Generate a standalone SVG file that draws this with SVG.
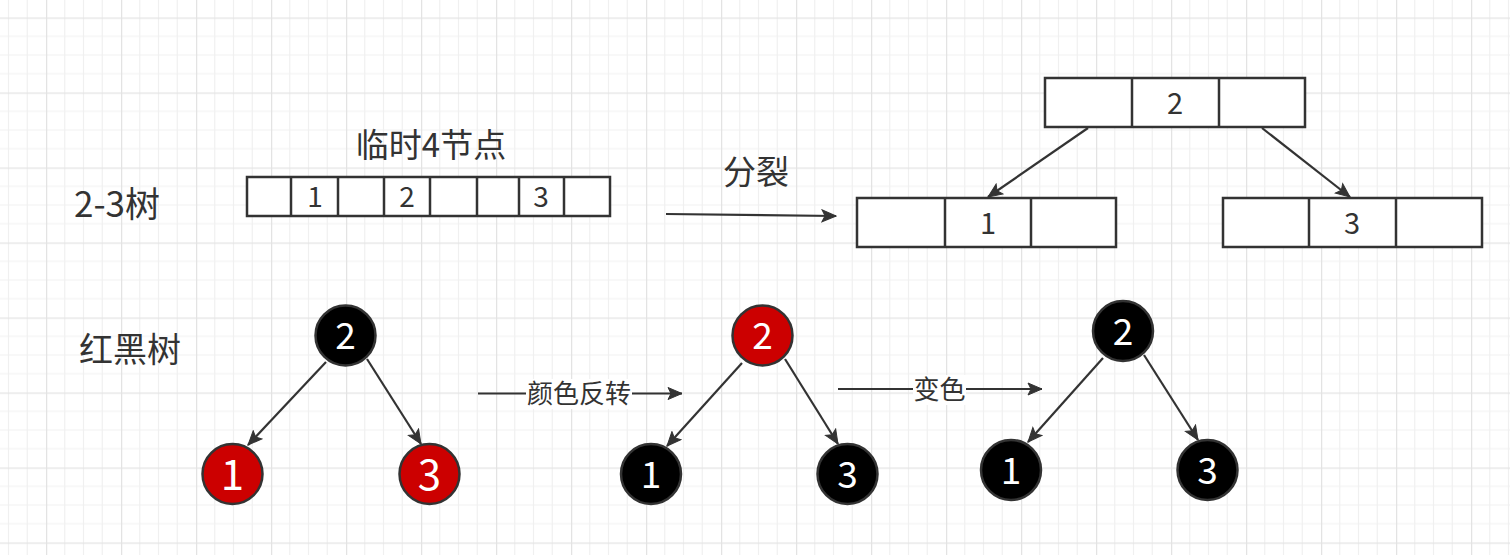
<svg xmlns="http://www.w3.org/2000/svg" width="1510" height="555" viewBox="0 0 1510 555">
<defs>
<pattern id="grid" patternUnits="userSpaceOnUse" x="46" y="17.5" width="75" height="75">
<g stroke="#f0f0f0" stroke-width="1.2">
<line x1="18.75" y1="0" x2="18.75" y2="75"/><line x1="37.5" y1="0" x2="37.5" y2="75"/><line x1="56.25" y1="0" x2="56.25" y2="75"/>
<line x1="0" y1="18.75" x2="75" y2="18.75"/><line x1="0" y1="37.5" x2="75" y2="37.5"/><line x1="0" y1="56.25" x2="75" y2="56.25"/>
</g>
<g stroke="#e3e3e3" stroke-width="1.5">
<line x1="0.5" y1="0" x2="0.5" y2="75"/><line x1="0" y1="0.5" x2="75" y2="0.5"/>
</g>
</pattern>
<marker id="arr" markerUnits="userSpaceOnUse" viewBox="-15 -7 16 14" refX="0" refY="0" markerWidth="16" markerHeight="14" orient="auto">
<path d="M0,0 L-14,-6 L-11,0 L-14,6 Z" fill="#333" stroke="#333" stroke-width="1"/>
</marker>
<style>
.lbl{font-family:"Noto Sans CJK SC","Noto Sans",sans-serif;fill:#333;}
.big{font-size:33px;}
.cell{fill:#fff;stroke:#333;stroke-width:2.5;}
.div{stroke:#333;stroke-width:2.5;}
.num{font-family:"Noto Sans CJK SC","Noto Sans",sans-serif;fill:#333;text-anchor:middle;}
.cn{font-family:"Noto Sans CJK SC","Noto Sans",sans-serif;fill:#fff;text-anchor:middle;font-size:37px;}
.blk{fill:#000;stroke:#333;stroke-width:2.5;}
.red{fill:#cc0000;stroke:#333;stroke-width:2.5;}
.edge{stroke:#333;stroke-width:2.2;fill:none;marker-end:url(#arr);}
</style>
</defs>
<rect width="1510" height="555" fill="#fff"/>
<rect width="1510" height="555" fill="url(#grid)"/>

<g id="labels">
<text class="lbl" x="74" y="217" style="font-size:35px">2-3树</text>
<text class="lbl" x="79" y="362" style="font-size:34px">红黑树</text>
<text class="lbl big" x="431" y="157" text-anchor="middle">临时4节点</text>
<text class="lbl big" x="756" y="184" text-anchor="middle">分裂</text>
</g>

<g id="temp4node">
<rect class="cell" x="247" y="177" width="363" height="39"/>
<line class="div" x1="291" y1="177" x2="291" y2="216"/>
<line class="div" x1="338" y1="177" x2="338" y2="216"/>
<line class="div" x1="384" y1="177" x2="384" y2="216"/>
<line class="div" x1="430" y1="177" x2="430" y2="216"/>
<line class="div" x1="477" y1="177" x2="477" y2="216"/>
<line class="div" x1="519" y1="177" x2="519" y2="216"/>
<line class="div" x1="564" y1="177" x2="564" y2="216"/>
<text class="num" x="315" y="207" font-size="28">1</text>
<text class="num" x="407" y="207" font-size="28">2</text>
<text class="num" x="541" y="207" font-size="28">3</text>
</g>

<g id="box2">
<rect class="cell" x="1045" y="78" width="260" height="49"/>
<line class="div" x1="1132" y1="78" x2="1132" y2="127"/>
<line class="div" x1="1219" y1="78" x2="1219" y2="127"/>
<text class="num" x="1175" y="114" font-size="29">2</text>
</g>
<g id="box1">
<rect class="cell" x="857" y="198" width="259" height="49"/>
<line class="div" x1="945" y1="198" x2="945" y2="247"/>
<line class="div" x1="1031" y1="198" x2="1031" y2="247"/>
<text class="num" x="988" y="234" font-size="29">1</text>
</g>
<g id="box3">
<rect class="cell" x="1223" y="198" width="259" height="49"/>
<line class="div" x1="1309" y1="198" x2="1309" y2="247"/>
<line class="div" x1="1396" y1="198" x2="1396" y2="247"/>
<text class="num" x="1352" y="234" font-size="29">3</text>
</g>

<g id="connectors">
<line class="edge" x1="666" y1="214" x2="836" y2="216"/>
<line class="edge" x1="1088" y1="128" x2="988" y2="197"/>
<line class="edge" x1="1262" y1="128" x2="1350" y2="197"/>
<line class="edge" x1="326" y1="362" x2="248" y2="445"/>
<line class="edge" x1="367" y1="359" x2="421" y2="444"/>
<line class="edge" x1="742" y1="363" x2="667" y2="446"/>
<line class="edge" x1="785" y1="359" x2="838" y2="444"/>
<line class="edge" x1="1103" y1="358" x2="1028" y2="442"/>
<line class="edge" x1="1144" y1="355" x2="1198" y2="440"/>
<line class="edge" x1="478" y1="393.5" x2="682" y2="393.5"/>
<line class="edge" x1="838" y1="389" x2="1042" y2="389"/>
<rect x="526" y="379" width="106" height="30" fill="#fff"/>
<text class="lbl" x="579" y="403" font-size="26" text-anchor="middle">颜色反转</text>
<rect x="913" y="375" width="53" height="30" fill="#fff"/>
<text class="lbl" x="939.5" y="399" font-size="26" text-anchor="middle">变色</text>
</g>

<g id="t1n2"><circle class="blk" cx="345.5" cy="335.5" r="30"/><text class="cn" x="345.5" y="349">2</text></g>
<g id="t1n1"><circle class="red" cx="232.5" cy="474" r="30"/><text class="cn" x="232.5" y="490" style="font-size:42px">1</text></g>
<g id="t1n3"><circle class="red" cx="429.5" cy="474" r="30"/><text class="cn" x="429.5" y="490" style="font-size:42px">3</text></g>

<g id="t2n2"><circle class="red" cx="762.5" cy="335.5" r="30"/><text class="cn" x="762.5" y="349">2</text></g>
<g id="t2n1"><circle class="blk" cx="651" cy="474" r="30"/><text class="cn" x="651" y="488">1</text></g>
<g id="t2n3"><circle class="blk" cx="847.5" cy="474" r="30"/><text class="cn" x="847.5" y="488">3</text></g>

<g id="t3n2"><circle class="blk" cx="1123" cy="331" r="30"/><text class="cn" x="1123" y="345">2</text></g>
<g id="t3n1"><circle class="blk" cx="1011" cy="470" r="30"/><text class="cn" x="1011" y="484">1</text></g>
<g id="t3n3"><circle class="blk" cx="1207.5" cy="470" r="30"/><text class="cn" x="1207.5" y="484">3</text></g>
</svg>
